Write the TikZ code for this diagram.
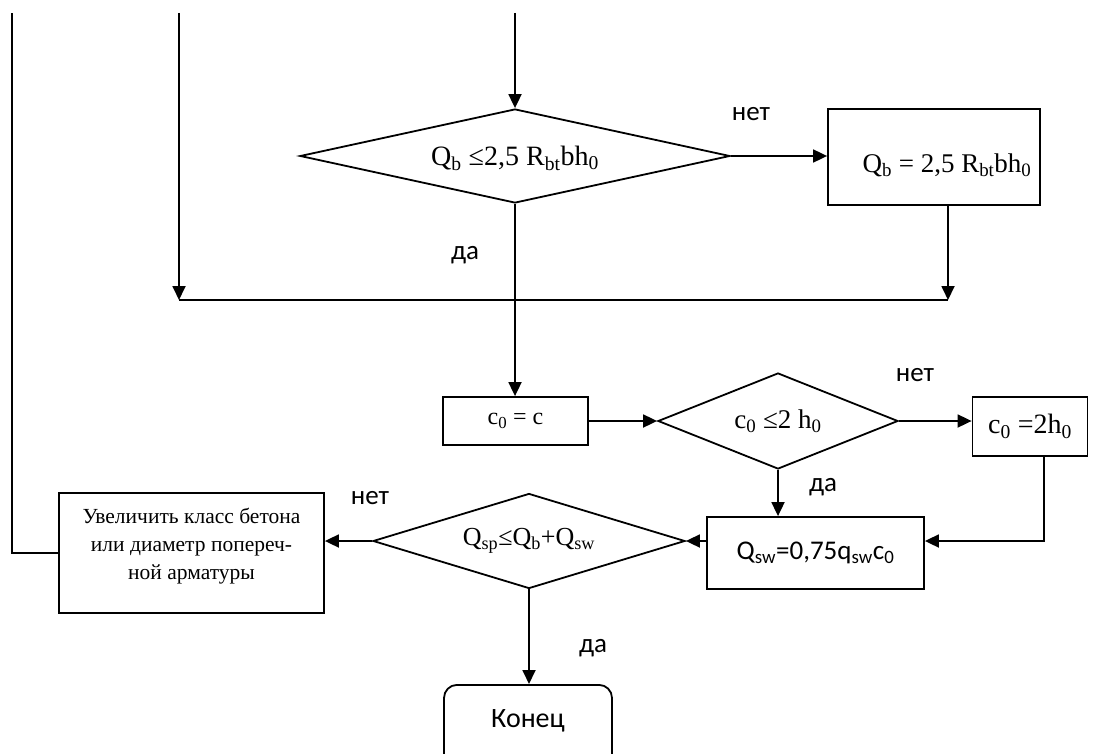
\documentclass[tikz,border=0pt]{standalone}
\usepackage{fontspec}
\setmainfont{Liberation Serif}
\newfontfamily\cbr{Carlito}
\usetikzlibrary{shapes.geometric,arrows.meta}
\begin{document}
\begin{tikzpicture}[x=1pt,y=-1pt,line width=1.8pt,
  arr/.style={-{Triangle[length=14pt,width=13pt]}},
  box/.style={draw,rectangle,inner sep=0pt,align=center},
  dia/.style={draw,diamond,inner sep=0pt},
  lbl/.style={font=\cbr\fontsize{27}{30}\selectfont,inner sep=0pt},
  tms/.style={font=\fontsize{#1}{#1}\selectfont}
]
\useasboundingbox (0,0) rectangle (1107,754);

% nodes
\node[dia,minimum width=430pt,minimum height=94pt,aspect=4.57,tms=28] (d1) at (515,156)
  {\raisebox{-2pt}[\height][\depth]{Q\textsubscript{b}\ ≤2,5 R\textsubscript{bt}bh\textsubscript{0}}};
\node[box,minimum width=212pt,minimum height=96pt,tms=27] (b1) at (934,157)
  {\hspace*{26pt}\raisebox{-8pt}[\height][\depth]{Q\textsubscript{b}\ = 2,5 R\textsubscript{bt}bh\textsubscript{0}}};
\node[box,minimum width=145pt,minimum height=48pt,tms=24] (b2) at (515.5,421)
  {c\textsubscript{0} = c};
\node[dia,minimum width=240pt,minimum height=96pt,aspect=2.5,tms=27] (d2) at (778,421)
  {c\textsubscript{0} ≤2 h\textsubscript{0}};
\node[box,minimum width=115pt,minimum height=59pt,tms=28] (b3) at (1030,426.5)
  {c\textsubscript{0} =2h\textsubscript{0}};
\node[box,minimum width=217pt,minimum height=72pt,font=\cbr\fontsize{27}{30}\selectfont] (b4) at (815.5,553)
  {Q\textsubscript{sw}=0,75q\textsubscript{sw}c\textsubscript{0}};
\node[dia,minimum width=312pt,minimum height=95pt,aspect=3.3,tms=26] (d3) at (529,541)
  {Q\textsubscript{sp}≤Q\textsubscript{b}+Q\textsubscript{sw}};
\node[box,minimum width=265pt,minimum height=120pt] (b5) at (191.5,553)
  {\raisebox{7pt}[\height][\depth]{\fontsize{21.5}{28}\selectfont\begin{tabular}{@{}c@{}}Увеличить класс бетона\\или диаметр попереч-\\ной арматуры\end{tabular}}};
\node[box,rounded corners=13pt,anchor=north,minimum width=168pt,minimum height=86pt,font=\cbr\fontsize{28}{30}\selectfont] (b6) at (528,684)
  {\raisebox{7pt}[\height][\depth]{Конец}};

% labels
\node[lbl] (l1) at (751,114) {нет};
\node[lbl] (l2) at (465,255) {да};
\node[lbl] (l3) at (915,375) {нет};
\node[lbl] (l4) at (823,487) {да};
\node[lbl] (l5) at (370,498) {нет};
\node[lbl] (l6) at (593,648) {да};

% coordinates
\coordinate (t0) at (12,13);
\coordinate (t1) at (179,13);
\coordinate (t2) at (515,13);
\coordinate (j1) at (179,300);
\coordinate (j2) at (948,300);
\coordinate (j3) at (1044,541);

% connectors
\draw[arr] (t2) -- (d1.north);
\draw[arr] (d1.east) -- (d1.east -| b1.west);
\draw[arr] (b1.south -| j2) -- (j2);
\draw[arr] (t1) -- (j1);
\draw (j1) -- (j2);
\draw[arr] (d1.south) -- (d1.south |- b2.north);
\draw[arr] (b2.east) -- (d2.west);
\draw[arr] (d2.east) -- (d2.east -| b3.west);
\draw[arr] (d2.south) -- (d2.south |- b4.north);
\draw[arr] (b3.south -| j3) -- (j3) -- (j3 -| b4.east);
\draw[arr] (b4.west |- d3.east) -- (d3.east);
\draw[arr] (d3.west) -- (d3.west -| b5.east);
\draw (b5.west) -- (b5.west -| t0) -- (t0);
\draw[arr] (d3.south) -- (d3.south |- b6.north);
\end{tikzpicture}
\end{document}
